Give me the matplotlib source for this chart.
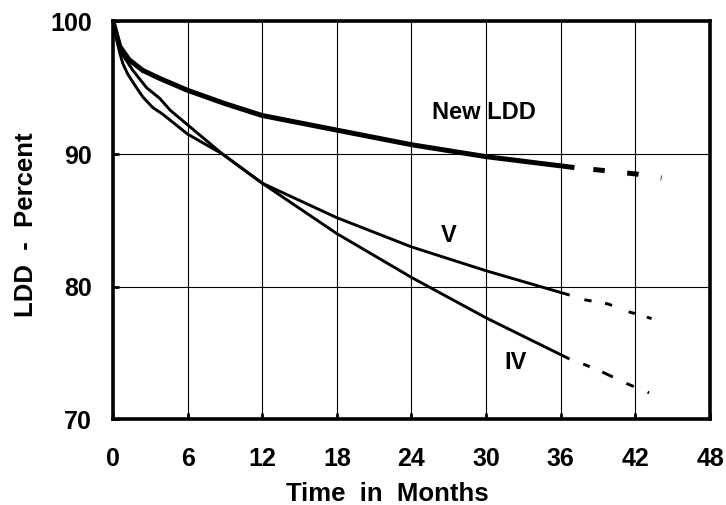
import numpy as np
import matplotlib.pyplot as plt

plt.rcParams['font.family'] = ['Liberation Sans', 'DejaVu Sans']
plt.rcParams['font.weight'] = 'bold'

# measured curves (months, LDD percent)
new_x = [0, 0.2, 0.55, 1.3, 2.4, 3.75, 6, 9, 12, 18, 24, 30, 36.9]
new_y = [100, 99.3, 98.1, 97.1, 96.3, 95.7, 94.8, 93.8, 92.9, 91.8, 90.7, 89.8, 89.0]
new_ext_x = [36.9, 39, 42, 44.1]
new_ext_y = [89.0, 88.8, 88.5, 88.2]

v_x = [0, 0.2, 0.55, 0.8, 1.2, 1.75, 2.4, 3.2, 4, 6, 8.8, 12, 18, 24, 30, 36.6]
v_y = [100, 99.0, 97.6, 96.8, 96.0, 95.2, 94.3, 93.5, 93.0, 91.5, 90.0, 87.8, 85.2, 83.0, 81.2, 79.4]
v_ext_x = [36.6, 38, 39.8, 41.5, 43.3]
v_ext_y = [79.4, 79.0, 78.7, 78.1, 77.6]

iv_x = [0, 0.2, 0.55, 1.6, 2.7, 3.75, 4.6, 6, 8.8, 12, 18, 24, 30, 36.6]
iv_y = [100, 99.2, 97.8, 96.3, 95.0, 94.2, 93.3, 92.2, 90.0, 87.8, 84.0, 80.7, 77.65, 74.6]
iv_ext_x = [36.6, 38, 39.5, 41.3, 43.1]
iv_ext_y = [74.6, 74.1, 73.5, 72.7, 72.0]

xticks = [0, 6, 12, 18, 24, 30, 36, 42, 48]
yticks = [70, 80, 90, 100]

fig = plt.figure(figsize=(7.26, 5.05), dpi=100)
ax = fig.add_axes([0.1556, 0.1695, 0.8224, 0.7883])

ax.plot(new_x, new_y, color='black', lw=3.6)
ax.plot(new_ext_x, new_ext_y, color='black', lw=3.6, dash_capstyle='butt',
        dashes=(0, 4.3, 2.3, 4.5, 2.3, 4.5, 0.5, 10))
ax.plot(v_x, v_y, color='black', lw=2.1)
ax.plot(v_ext_x, v_ext_y, color='black', lw=2.1, dash_capstyle='butt',
        dashes=(0, 5.8, 2.5, 4.7, 2.5, 6.1, 2.2, 4.3, 2.5, 10))
ax.plot(iv_x, iv_y, color='black', lw=2.1)
ax.plot(iv_ext_x, iv_ext_y, color='black', lw=2.1, dash_capstyle='butt',
        dashes=(0, 5.5, 2.4, 4.7, 4.0, 5.1, 2.8, 5.1, 2.8, 10))

ax.text(29.8, 92.64, 'New LDD', fontsize=17, fontweight='bold', ha='center', va='baseline')
ax.text(27.0, 83.34, 'V', fontsize=17, fontweight='bold', ha='center', va='baseline')
ax.text(32.4, 73.8, 'IV', fontsize=17, fontweight='bold', ha='center', va='baseline')

ax.set_xlim(0, 48)
ax.set_ylim(70, 100)
ax.set_xticks(xticks)
ax.set_yticks(yticks)
ax.tick_params(direction='in', length=4, width=2, labelsize=18)
ax.tick_params(axis='x', pad=20)
ax.tick_params(axis='y', pad=15)
for lab in ax.get_xticklabels() + ax.get_yticklabels():
    lab.set_fontweight('bold')
ax.grid(True, color='black', lw=0.8)
for s in ax.spines.values():
    s.set_linewidth(2.6)

ax.set_xlabel('Time  in  Months', fontsize=18.5, fontweight='bold')
ax.xaxis.label.set_va('baseline')
ax.xaxis.set_label_coords(0.46, -0.204)
ax.set_ylabel('LDD  -  Percent', fontsize=18.5, fontweight='bold')
ax.yaxis.set_label_coords(-0.126, 0.49)

fig.savefig('out.png', dpi=100)
